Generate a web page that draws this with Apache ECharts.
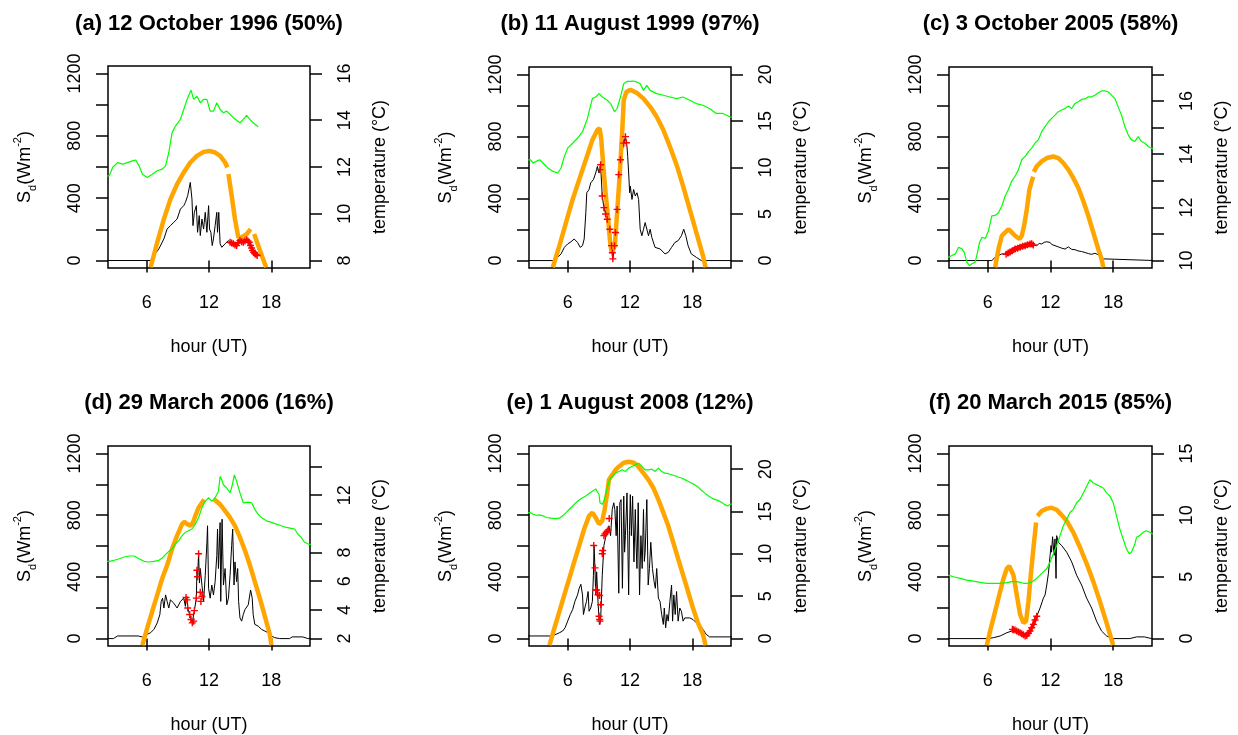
<!DOCTYPE html>
<html><head><meta charset="utf-8">
<script src="https://cdn.jsdelivr.net/npm/echarts@6/dist/echarts.min.js"></script>
<style>html,body{margin:0;padding:0;background:#fff}#c{width:1238px;height:735px}</style>
</head><body><div id="c"></div>
<script>
// ---------- data (hour UT, value) ----------
const titles = ['(a) 12 October 1996 (50%)','(b) 11 August 1999 (97%)','(c) 3 October 2005 (58%)',
                '(d) 29 March 2006 (16%)','(e) 1 August 2008 (12%)','(f) 20 March 2015 (85%)'];
const hourTicks = [6, 12, 18];
const sdTicks = [0, 200, 400, 600, 800, 1000, 1200];
const sdLabels = [0, 400, 800, 1200];

// temperature (°C)
const aTemp = [[2.2,11.62],[2.40,11.62],[2.72,11.98],[3.20,12.19],[3.68,12.12],[4.15,12.19],[4.63,12.26],[4.95,12.30],[5.27,12.05],[5.59,11.69],[6.06,11.55],[6.54,11.69],[7.02,11.84],[7.50,11.91],[7.82,12.05],[8.13,12.62],[8.45,13.47],[8.77,13.75],[9.25,14.04],[9.57,14.46],[9.89,14.89],[10.27,15.29],[10.52,14.89],[10.84,15.03],[11.00,15.10],[11.16,14.75],[11.48,14.89],[11.80,14.89],[12.11,14.39],[12.43,14.39],[12.75,14.75],[13.07,14.46],[13.39,14.32],[13.71,14.39],[14.03,14.25],[14.34,14.11],[14.98,13.89],[15.30,14.04],[15.62,14.21],[15.94,14.04],[16.25,13.89],[16.73,13.72]];
const bTemp = [[2.2,10.83],[2.44,10.83],[2.67,10.48],[2.98,10.66],[3.30,10.83],[3.62,10.48],[4.10,9.95],[4.57,9.59],[5.05,9.41],[5.37,9.95],[5.68,11.19],[6.0,12.08],[6.48,12.61],[6.95,13.14],[7.43,13.85],[7.90,15.27],[8.38,17.40],[8.70,17.58],[9.02,17.94],[9.33,17.58],[9.81,17.23],[10.13,16.87],[10.51,15.98],[10.76,16.34],[11.08,17.58],[11.40,19.0],[11.71,19.25],[12.03,19.25],[12.35,19.29],[12.67,19.18],[12.98,19.0],[13.30,18.29],[13.62,18.83],[13.94,18.29],[14.57,17.94],[15.21,17.76],[15.84,17.58],[16.48,17.40],[17.11,17.58],[17.75,17.23],[18.38,16.87],[19.02,16.69],[19.65,16.34],[20.29,15.81],[20.92,15.81],[21.62,15.45],[21.8,15.4]];
const cTemp = [[2.2,10.12],[2.34,10.12],[2.56,10.19],[2.88,10.25],[3.20,10.50],[3.52,10.44],[3.74,10.31],[3.99,9.94],[4.25,9.81],[4.47,9.88],[4.79,9.94],[5.01,10.31],[5.20,10.68],[5.43,10.87],[5.75,10.83],[6.06,11.12],[6.38,11.68],[6.70,11.70],[7.02,11.80],[7.34,12.05],[7.66,12.43],[7.97,12.67],[8.29,12.99],[8.61,13.17],[8.93,13.42],[9.25,13.79],[9.57,13.92],[9.89,14.10],[10.20,14.23],[10.52,14.42],[10.84,14.54],[11.16,14.85],[11.48,15.04],[11.80,15.22],[12.11,15.35],[12.43,15.47],[12.75,15.60],[13.07,15.66],[13.39,15.72],[13.71,15.81],[14.03,15.72],[14.34,15.91],[14.66,15.97],[14.98,16.06],[15.30,16.08],[15.62,16.16],[15.94,16.16],[16.25,16.22],[16.57,16.31],[16.89,16.38],[17.21,16.38],[17.53,16.34],[17.85,16.22],[18.17,16.09],[18.48,15.78],[18.80,15.47],[19.12,15.04],[19.44,14.73],[19.76,14.54],[20.08,14.48],[20.39,14.66],[20.71,14.48],[21.03,14.42],[21.35,14.29],[21.67,14.23],[21.8,14.2]];
const dTemp = [[2.2,7.39],[2.40,7.39],[2.88,7.46],[3.36,7.57],[3.83,7.69],[4.31,7.76],[4.79,7.76],[5.27,7.57],[5.75,7.39],[6.22,7.34],[6.70,7.39],[7.18,7.46],[7.50,7.62],[7.82,7.85],[8.13,8.08],[8.45,8.26],[8.77,8.61],[9.09,8.83],[9.41,9.18],[9.73,9.41],[10.04,9.52],[10.36,9.64],[10.68,9.98],[11.0,10.44],[11.32,11.13],[11.64,11.59],[11.96,11.82],[12.27,11.59],[12.59,11.82],[12.91,12.28],[13.07,13.31],[13.23,13.08],[13.39,12.73],[13.71,12.50],[14.03,12.16],[14.25,12.73],[14.44,13.42],[14.66,12.96],[14.98,12.16],[15.30,11.47],[15.78,11.52],[16.10,11.47],[16.41,11.01],[16.73,10.67],[17.05,10.44],[17.53,10.21],[18.01,10.10],[18.48,9.98],[18.96,9.87],[19.44,9.75],[19.92,9.68],[20.24,9.64],[20.55,9.29],[20.87,9.06],[21.19,8.72],[21.51,8.61],[21.8,8.55]];
const eTemp = [[2.2,14.87],[2.41,14.87],[2.67,14.68],[2.98,14.56],[3.30,14.60],[3.62,14.49],[3.94,14.29],[4.41,14.21],[4.89,14.17],[5.21,14.21],[5.52,14.49],[5.84,14.87],[6.16,15.26],[6.48,15.65],[6.79,16.04],[7.11,16.35],[7.43,16.62],[7.75,16.82],[8.06,17.13],[8.38,17.40],[8.70,17.67],[8.86,17.59],[9.02,17.01],[9.11,16.04],[9.33,15.84],[9.49,16.23],[9.65,17.01],[9.81,17.79],[9.97,18.56],[10.13,18.95],[10.29,19.15],[10.60,19.53],[10.92,19.73],[11.24,19.92],[11.56,19.73],[11.87,20.12],[12.19,20.31],[12.51,20.50],[12.83,20.70],[12.98,20.89],[13.14,20.31],[13.46,19.92],[13.78,19.92],[14.10,20.0],[14.41,19.73],[14.73,20.12],[15.05,19.73],[15.37,19.53],[15.68,19.46],[16.0,19.34],[16.32,19.22],[16.63,19.07],[16.95,18.95],[17.27,18.76],[17.59,18.56],[17.90,18.37],[18.22,18.17],[18.54,17.90],[18.86,17.51],[19.17,17.20],[19.49,16.89],[19.81,16.62],[20.13,16.43],[20.44,16.31],[20.76,16.12],[21.08,15.84],[21.40,15.65],[21.62,15.84],[21.8,15.9]];
const fTemp = [[2.2,5.14],[2.34,5.14],[2.72,5.01],[3.36,4.88],[3.99,4.74],[4.63,4.66],[5.27,4.56],[5.90,4.48],[6.54,4.48],[7.18,4.48],[7.82,4.53],[8.29,4.61],[8.77,4.61],[9.09,4.56],[9.41,4.48],[9.73,4.48],[10.04,4.53],[10.36,4.66],[10.68,4.88],[11.0,5.14],[11.32,5.41],[11.64,5.68],[11.96,6.21],[12.27,6.87],[12.59,7.54],[12.91,8.34],[13.23,9.14],[13.55,9.67],[13.87,10.21],[14.18,10.47],[14.50,11.0],[14.82,11.27],[15.14,11.80],[15.46,12.34],[15.78,12.87],[15.94,13.00],[16.10,12.60],[16.41,12.47],[16.73,12.34],[17.05,12.20],[17.37,11.80],[17.69,11.54],[18.01,11.0],[18.32,9.94],[18.64,8.87],[18.96,8.07],[19.28,7.27],[19.54,6.87],[19.76,7.01],[20.08,7.67],[20.24,8.21],[20.55,8.34],[20.87,8.61],[21.19,8.74],[21.51,8.61],[21.67,8.47],[21.8,8.45]];

// modelled radiation (orange, W m-2); null = gap
const aClear = [[6.38,-43],[7.02,117],[7.66,266],[8.29,394],[8.93,490],[9.57,565],[10.2,629],[10.84,671],[11.48,697],[12.05,703],[12.59,693],[13.07,671],[13.55,629],[13.77,597],[13.8,null],[13.87,554],[14.18,416],[14.50,266],[14.82,149],[15.14,149],[15.62,170],[16.0,202],[16.1,null],[16.35,170],[16.73,96],[17.2,11],[17.5,-43]];
const bClear = [[4.57,-43],[5.21,96],[5.84,245],[6.48,394],[7.11,522],[7.75,650],[8.38,778],[8.86,842],[9.08,852],[9.24,778],[9.43,607],[9.65,437],[9.87,288],[10.06,139],[10.22,53],[10.38,43],[10.54,96],[10.76,309],[11.02,565],[11.24,820],[11.40,1034],[11.65,1087],[12.03,1102],[12.67,1080],[13.30,1044],[13.94,991],[14.57,927],[15.21,842],[15.84,735],[16.48,618],[17.11,480],[17.75,330],[18.38,181],[19.02,32],[19.27,-43]];
const cClear = [[6.70,-43],[7.02,75],[7.34,160],[7.66,181],[7.97,202],[8.29,181],[8.61,160],[9.03,139],[9.25,160],[9.47,224],[9.73,330],[9.98,458],[10.20,511],[10.34,540],[10.37,null],[10.40,572],[10.68,607],[11.16,639],[11.64,661],[12.27,671],[12.75,661],[13.23,629],[13.71,586],[14.18,533],[14.66,469],[15.14,384],[15.62,288],[16.10,181],[16.57,75],[16.89,11],[17.05,-43]];
const dClear = [[5.59,-43],[6.06,70],[6.54,177],[7.02,283],[7.50,390],[7.97,475],[8.45,582],[8.93,667],[9.41,742],[9.63,757],[9.89,742],[10.20,731],[10.46,752],[10.68,795],[11.0,848],[11.32,880],[11.54,901],[11.6,null],[12.5,903],[12.59,901],[13.07,869],[13.55,827],[14.03,784],[14.50,731],[14.98,656],[15.46,571],[15.94,475],[16.41,369],[16.89,262],[17.37,145],[17.85,28],[18.01,-43]];
const eClear = [[4.25,-43],[4.73,70],[5.21,177],[5.68,283],[6.16,390],[6.63,497],[7.11,603],[7.59,710],[8.06,795],[8.38,816],[8.70,784],[9.02,742],[9.33,763],[9.56,837],[9.81,944],[9.97,1029],[10.29,1061],[10.60,1093],[10.92,1114],[11.40,1140],[11.87,1146],[12.35,1140],[12.67,1125],[13.30,1072],[13.78,1029],[14.25,976],[14.73,901],[15.21,816],[15.68,731],[16.16,624],[16.63,518],[17.11,411],[17.59,305],[18.06,198],[18.54,102],[19.02,28],[19.27,-43]];
const fClear = [[5.90,-43],[6.22,49],[6.54,134],[6.86,219],[7.18,305],[7.50,390],[7.82,454],[8.05,470],[8.20,465],[8.45,411],[8.77,283],[9.09,156],[9.41,102],[9.66,113],[9.89,241],[10.11,411],[10.36,582],[10.62,752],[10.68,null],[10.75,795],[11.16,827],[11.64,842],[12.11,848],[12.59,835],[13.07,800],[13.55,763],[14.18,688],[14.82,592],[15.46,486],[16.10,369],[16.73,241],[17.37,102],[18.0,-43]];

// measured radiation Sd (black, W m-2)
const aSd = [[2.0,0],[6.38,0],[6.70,32],[7.18,75],[7.66,139],[7.97,202],[8.29,224],[8.61,245],[8.93,266],[9.25,330],[9.57,352],[9.73,373],[9.95,416],[10.2,501],[10.36,394],[10.46,224],[10.59,309],[10.78,352],[10.90,181],[11.06,288],[11.16,160],[11.32,266],[11.48,202],[11.64,309],[11.80,181],[11.96,352],[12.05,202],[12.18,181],[12.31,96],[12.43,139],[12.59,224],[12.75,309],[12.82,181],[12.94,309],[13.07,107],[13.23,85],[13.39,96],[13.55,107],[13.71,117],[13.87,128],[14.03,117]];
const bSd = [[2.0,0],[4.73,0],[5.05,21],[5.37,43],[5.68,85],[6.0,107],[6.32,121],[6.63,139],[6.95,117],[7.21,85],[7.43,96],[7.59,139],[7.75,309],[7.84,437],[8.06,458],[8.22,501],[8.48,522],[8.70,565],[8.86,607],[9.02,565],[9.11,586],[9.17,618],[9.33,416],[9.49,341],[9.81,266],[10.06,202],[10.22,96],[10.35,11],[10.51,96],[10.60,181],[10.76,330],[10.92,554],[11.08,650],[11.40,757],[11.56,799],[11.71,735],[11.78,671],[11.87,565],[11.97,437],[12.03,480],[12.19,394],[12.35,458],[12.51,416],[12.67,437],[12.83,394],[12.98,202],[13.14,160],[13.30,202],[13.46,245],[13.62,256],[13.78,160],[13.94,202],[14.10,149],[14.41,85],[14.89,75],[15.37,43],[15.68,53],[16.0,85],[16.32,117],[16.63,128],[16.95,160],[17.17,202],[17.37,160],[17.59,96],[17.90,43],[18.38,21],[18.86,0],[22.0,0]];
const cSd = [[2.0,0],[6.38,0],[6.70,21],[7.02,32],[7.34,43],[7.75,43],[8.13,53],[8.61,75],[9.09,85],[9.57,96],[10.04,107],[10.36,100],[10.68,96],[10.92,110],[11.16,107],[11.40,118],[11.64,121],[11.80,112],[11.96,117],[12.11,104],[12.27,107],[12.43,96],[12.59,100],[12.75,88],[12.91,96],[13.07,80],[13.23,85],[13.39,74],[13.55,79],[13.71,88],[13.87,85],[14.03,72],[14.18,79],[14.34,70],[14.50,75],[14.66,62],[14.82,64],[14.98,58],[15.14,64],[15.30,52],[15.46,53],[15.62,45],[15.78,49],[15.94,40],[16.10,43],[16.25,47],[16.41,49],[16.57,38],[16.73,32],[17.05,11],[17.2,0],[22.0,0]];
const dSd = [[2.0,0],[2.8,0],[3.2,17],[5.2,17],[5.6,10],[6.06,28],[6.38,38],[6.70,60],[7.02,102],[7.27,156],[7.40,241],[7.53,262],[7.66,198],[7.82,283],[7.97,241],[8.13,198],[8.29,251],[8.61,230],[8.93,198],[9.25,241],[9.57,262],[9.73,209],[9.79,266],[9.89,251],[9.95,198],[10.14,156],[10.27,124],[10.39,102],[10.52,113],[10.59,181],[10.78,262],[10.84,443],[10.90,401],[11.0,550],[11.08,360],[11.16,454],[11.32,347],[11.48,241],[11.64,411],[11.80,624],[11.86,731],[11.96,326],[12.11,262],[12.27,347],[12.43,283],[12.59,369],[12.75,539],[12.82,710],[12.91,454],[13.07,752],[13.13,241],[13.26,774],[13.39,347],[13.55,454],[13.71,219],[13.87,262],[14.03,411],[14.18,603],[14.28,710],[14.41,347],[14.50,497],[14.66,369],[14.76,454],[14.85,241],[14.98,134],[15.14,113],[15.30,156],[15.46,188],[15.62,177],[15.78,219],[16.0,315],[16.16,262],[16.25,156],[16.41,92],[16.73,81],[17.05,60],[17.37,49],[17.69,38],[18.01,17],[18.32,6],[18.80,0],[19.76,0],[20.0,11],[21.03,11],[21.51,0],[22.0,0]];
const eSd = [[2.0,17],[4.4,17],[4.89,28],[5.21,38],[5.52,49],[5.75,70],[6.0,113],[6.25,156],[6.48,188],[6.70,241],[6.95,283],[7.11,326],[7.27,352],[7.43,283],[7.52,156],[7.65,198],[7.81,241],[7.97,305],[8.06,177],[8.22,198],[8.38,241],[8.48,411],[8.54,603],[8.63,454],[8.70,283],[8.79,433],[8.92,241],[9.05,92],[9.17,113],[9.33,411],[9.49,603],[9.65,656],[9.81,678],[9.97,731],[10.13,667],[10.29,837],[10.44,880],[10.54,837],[10.67,667],[10.76,859],[10.92,294],[11.02,880],[11.14,901],[11.27,326],[11.40,923],[11.48,560],[11.56,667],[11.71,944],[11.87,283],[11.95,700],[12.03,933],[12.13,667],[12.25,923],[12.38,497],[12.51,837],[12.59,600],[12.67,454],[12.79,880],[12.92,283],[13.05,667],[13.17,454],[13.30,837],[13.38,500],[13.46,560],[13.62,901],[13.75,347],[13.87,454],[14.0,624],[14.16,454],[14.32,369],[14.44,326],[14.57,454],[14.73,262],[14.89,241],[15.05,156],[15.21,92],[15.30,198],[15.43,70],[15.56,156],[15.68,113],[15.84,241],[16.0,347],[16.10,113],[16.22,283],[16.35,156],[16.48,305],[16.63,113],[16.79,198],[16.95,177],[17.11,113],[17.27,134],[17.43,145],[17.75,134],[18.06,124],[18.38,102],[18.70,92],[19.02,60],[19.33,28],[19.65,11],[22.0,11]];
const fSd = [[2.0,0],[6.0,0],[6.54,6],[7.18,17],[7.82,38],[8.29,49],[8.45,60],[8.77,49],[9.09,38],[9.41,28],[9.57,17],[9.73,17],[10.04,49],[10.36,92],[10.68,145],[11.0,198],[11.32,262],[11.48,283],[11.64,347],[11.80,422],[11.96,539],[12.05,603],[12.10,560],[12.20,660],[12.27,600],[12.35,540],[12.43,646],[12.53,390],[12.59,667],[12.75,624],[13.07,603],[13.55,560],[14.03,497],[14.50,411],[14.98,347],[15.46,262],[15.94,198],[16.41,113],[16.89,49],[17.37,17],[18.0,0],[19.6,0],[20.24,11],[21.0,11],[21.67,0],[22.0,0]];

// eclipse-period Sd (red +)
const aEcl = [[14.03,117],[14.18,112],[14.34,107],[14.50,100],[14.66,96],[14.82,115],[14.98,128],[15.14,120],[15.30,117],[15.46,125],[15.62,134],[15.75,125],[15.87,117],[16.0,96],[16.10,80],[16.19,64],[16.30,52],[16.41,43],[16.52,38],[16.64,32]];
const bEcl = [[9.11,586],[9.17,618],[9.33,416],[9.49,341],[9.65,300],[9.81,266],[10.06,202],[10.22,96],[10.30,50],[10.35,11],[10.51,96],[10.60,181],[10.76,330],[10.92,554],[11.08,650],[11.40,757],[11.56,799],[11.65,760]];
const cEcl = [[7.75,40],[7.95,48],[8.13,55],[8.35,63],[8.61,75],[8.85,80],[9.09,86],[9.33,92],[9.57,96],[9.80,102],[10.04,106],[10.20,108],[10.36,100]];
const dEcl = [[9.79,266],[9.89,251],[9.95,198],[10.14,156],[10.27,124],[10.39,102],[10.52,113],[10.59,181],[10.78,262],[10.84,443],[10.90,401],[11.0,550],[11.16,300],[11.22,241],[11.32,273]];
const eEcl = [[8.51,603],[8.63,458],[8.70,315],[8.79,315],[8.92,283],[9.08,279],[9.17,219],[9.02,145],[9.08,124],[9.11,113],[9.33,550],[9.37,571],[9.49,667],[9.59,678],[9.71,688],[9.81,695],[9.90,703],[10.0,778]];
const fEcl = [[8.35,60],[8.45,58],[8.60,55],[8.77,49],[8.93,42],[9.09,38],[9.25,32],[9.41,25],[9.57,17],[9.73,20],[9.89,35],[10.04,49],[10.20,70],[10.36,92],[10.52,120],[10.68,145]];

// temperature axis ticks / labels
const tTicks = [[8,10,12,14,16],[0,5,10,15,20],[10,11,12,13,14,15,16,17],[2,4,6,8,10,12,14],[0,5,10,15,20],[0,5,10,15]];
const tLabels = [[8,10,12,14,16],[0,5,10,15,20],[10,12,14,16],[2,4,6,8,12],[0,5,10,15,20],[0,5,10,15]];

// ---------- layout / styling ----------
const FONT = 'Liberation Sans, Arial, Helvetica, sans-serif';
const boxes = [
  {l:108,t:66,w:202,h:202},{l:529,t:67,w:202,h:201},{l:949,t:67,w:203,h:201},
  {l:108,t:446,w:202,h:202},{l:529,t:446,w:202,h:202},{l:949,t:446,w:203,h:202}
];
const titleY = [13,13,13,392,392,392];
// right-axis range chosen so that its ticks line up with the reference
const tRange = [[7.68,16.32],[-0.8,20.8],[9.72,17.28],[1.483,15.43],[-0.874,22.73],[-0.6,15.6]];
const temps = [aTemp,bTemp,cTemp,dTemp,eTemp,fTemp];
const clears = [aClear,bClear,cClear,dClear,eClear,fClear];
const sds = [aSd,bSd,cSd,dSd,eSd,fSd];
const ecls = [aEcl,bEcl,cEcl,dEcl,eEcl,fEcl];
const redWidth = [3,0,5,0,0,3.5];

const CROSS = 'path://M4,0H6V4H10V6H6V10H4V6H0V4H4Z';
const tickStyle = {color:'#000', width:1.5};
const txt = {color:'#000', fontSize:18, fontFamily:FONT};
const plain = v => String(v);

const option = {animation:false, backgroundColor:'#fff', title:[], grid:[], xAxis:[], yAxis:[], series:[]};
boxes.forEach((b,i)=>{
  option.title.push({text:titles[i], left:b.l+b.w/2, top:titleY[i], textAlign:'center', padding:0,
    textStyle:{fontSize:22, fontWeight:'bold', color:'#000', fontFamily:FONT}});
  option.grid.push({left:b.l, top:b.t, width:b.w, height:b.h, show:true, borderColor:'#000', borderWidth:1.5, backgroundColor:'transparent'});
  option.xAxis.push({type:'value', gridIndex:i, min:2.28, max:21.72,
    axisLine:{show:false}, splitLine:{show:false},
    axisTick:{show:true, length:12, lineStyle:tickStyle, customValues:hourTicks},
    axisLabel:Object.assign({customValues:hourTicks, margin:26, formatter:plain}, txt),
    name:'hour (UT)', nameLocation:'middle', nameGap:70, nameTextStyle:txt});
  option.yAxis.push({type:'value', gridIndex:i, position:'left', min:-48, max:1248,
    axisLine:{show:false}, splitLine:{show:false},
    axisTick:{show:true, length:12, lineStyle:tickStyle, customValues:sdTicks},
    axisLabel:Object.assign({customValues:sdLabels, rotate:90, margin:24, formatter:plain}, txt),
    name:'{n|S}{s|d}{n|(Wm}{p|-2}{n|)}', nameLocation:'middle', nameRotate:90, nameGap:70,
    nameTextStyle:{color:'#000', fontSize:18, fontFamily:FONT, rich:{
      n:{fontSize:18, fontFamily:FONT, color:'#000', lineHeight:26, verticalAlign:'middle'},
      s:{fontSize:11, fontFamily:FONT, color:'#000', lineHeight:26, verticalAlign:'bottom'},
      p:{fontSize:11, fontFamily:FONT, color:'#000', lineHeight:26, verticalAlign:'top'}}}});
  option.yAxis.push({type:'value', gridIndex:i, position:'right', min:tRange[i][0], max:tRange[i][1],
    axisLine:{show:false}, splitLine:{show:false},
    axisTick:{show:true, length:12, lineStyle:tickStyle, customValues:tTicks[i]},
    axisLabel:Object.assign({customValues:tLabels[i], rotate:90, margin:26, formatter:plain}, txt),
    name:'temperature (°C)', nameLocation:'middle', nameRotate:90, nameGap:61, nameTextStyle:txt});
  const base = {type:'line', xAxisIndex:i, showSymbol:false, symbol:'none', connectNulls:false, clip:true, silent:true};
  option.series.push(Object.assign({}, base, {yAxisIndex:2*i, data:sds[i], lineStyle:{color:'#000', width:1}, z:2}));
  option.series.push(Object.assign({}, base, {yAxisIndex:2*i, data:clears[i], lineStyle:{color:'#FFA500', width:4.5}, z:3}));
  option.series.push(Object.assign({}, base, {yAxisIndex:2*i, data:ecls[i], showSymbol:true, symbol:CROSS, symbolSize:7,
    itemStyle:{color:'#FF0000'}, lineStyle:{color:'#FF0000', width:redWidth[i], opacity:redWidth[i]?1:0}, z:4}));
  option.series.push(Object.assign({}, base, {yAxisIndex:2*i+1, data:temps[i], lineStyle:{color:'#00FF00', width:1.2}, z:5}));
});

const chart = echarts.init(document.getElementById('c'), null, {renderer:'canvas'});
chart.setOption(option);
</script>
</body></html>
